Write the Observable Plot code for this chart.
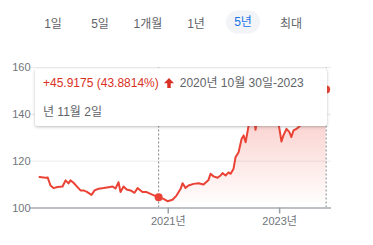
<!DOCTYPE html>
<html><head><meta charset="utf-8">
<script src="https://cdn.jsdelivr.net/npm/d3@7"></script>
<script src="https://cdn.jsdelivr.net/npm/@observablehq/plot@0.6"></script>
<style>
body{margin:0;background:#fff;font-family:Arial,"Liberation Sans","Noto Sans CJK KR",sans-serif;}
#wrap{position:relative;width:373px;height:245px;overflow:hidden;}
#chart{position:absolute;left:0;top:0;}
.tab{position:absolute;top:22px;transform:translate(-50%,-50%);font-size:12px;color:#5f6368;white-space:nowrap;}
.tab.sel{color:#1a73e8;background:#f2f4f7;border-radius:12px;width:34px;height:23px;line-height:23px;text-align:center;}
#tip{position:absolute;left:35px;top:69px;width:292px;height:57px;background:#fff;box-shadow:0 1px 3px rgba(60,64,67,.35);border-radius:2px;box-sizing:border-box;padding:0 8px;font-size:12px;line-height:29px;color:#5f6368;white-space:nowrap;}
#tip .chg{color:#d93025;}
#tip svg{vertical-align:-2px;margin:0 5px 0 4px;}
</style></head>
<body>
<div id="wrap">
  <div id="chart"></div>
  <div id="tabs"></div>
  <div id="tip"></div>
</div>
<script>
const tabs = ["1일","5일","1개월","1년","5년","최대"];
const tabCenters = [53, 100, 148, 196, 243, 291];
const selectedTab = "5년";

const dates = ["2018-09-10","2018-10-20","2018-11-03","2018-11-21","2018-12-11","2019-01-06","2019-02-08","2019-02-28","2019-03-19","2019-04-01","2019-04-21","2019-05-17","2019-06-06","2019-06-26","2019-07-15","2019-08-17","2019-09-06","2019-10-02","2019-11-04","2019-12-07","2020-01-02","2020-01-21","2020-02-10","2020-02-23","2020-03-14","2020-04-03","2020-04-29","2020-05-25","2020-06-14","2020-07-03","2020-07-16","2020-08-12","2020-09-07","2020-10-03","2020-10-30","2020-12-01","2020-12-27","2021-01-29","2021-02-24","2021-03-23","2021-04-05","2021-04-24","2021-05-14","2021-06-16","2021-07-19","2021-08-20","2021-09-22","2021-10-05","2021-10-25","2021-11-20","2021-12-10","2021-12-23","2022-01-12","2022-01-31","2022-02-14","2022-03-05","2022-03-18","2022-04-07","2022-04-27","2022-05-10","2022-05-23","2022-06-12","2022-06-25","2022-07-14","2022-07-27","2022-08-16","2022-09-11","2022-10-07","2022-11-02","2022-11-28","2022-12-24","2023-01-13","2023-01-26","2023-02-15","2023-03-06","2023-03-19","2023-04-02","2023-04-21","2023-05-11","2023-06-06","2023-07-09","2023-08-11","2023-09-13","2023-10-09","2023-11-02"];
const values = [113.2,112.9,113.0,109.6,108.5,109.0,109.2,111.8,110.5,111.8,110.8,108.9,107.5,107.5,107.0,105.6,107.5,108.2,108.5,108.9,109.2,108.3,111.0,106.8,109.2,107.9,107.5,106.5,108.5,107.5,106.8,106.8,106.0,105.3,104.64,103.9,102.9,103.5,105.3,108.2,110.6,108.6,109.6,110.3,110.6,110.0,112.0,114.6,113.5,112.9,113.9,114.9,113.9,115.2,114.6,116.8,121.7,123.8,129.6,131.0,128.1,135.3,136.0,140.0,133.4,141.0,138.0,144.0,140.0,143.0,136.5,128.4,131.0,133.8,132.4,130.3,133.1,133.8,134.8,137.0,139.0,141.0,144.0,147.0,150.56];
const yTicks = [100, 120, 140, 160];
const xTicks = ["2021-01-01", "2023-01-01"];
const rangeStart = "2020-10-30";
const rangeEnd = "2023-11-02";
const changeText = "+45.9175 (43.8814%)";
const periodLine1 = "2020년 10월 30일-2023";
const periodLine2 = "년 11월 2일";

const data = dates.map((d, i) => ({date: new Date(d), value: values[i]}));
const t0 = new Date(rangeStart), t1 = new Date(rangeEnd);
const areaData = data.filter(d => d.date >= t0);
const endPoints = data.filter(d => +d.date === +t0 || +d.date === +t1);

const red = "#ea4335";
const defs = () => {
  const s = d3.create("svg:defs");
  const g = s.append("linearGradient").attr("id", "fillgrad").attr("x1", 0).attr("x2", 0).attr("y1", 0).attr("y2", 1);
  g.append("stop").attr("offset", "0%").attr("stop-color", red).attr("stop-opacity", 0.32);
  g.append("stop").attr("offset", "100%").attr("stop-color", red).attr("stop-opacity", 0.0);
  return s.node();
};

const chart = Plot.plot({
  width: 373, height: 245,
  marginTop: 67, marginBottom: 37.5, marginLeft: 30, marginRight: 42,
  style: {fontFamily: "Arial, 'Liberation Sans', 'Noto Sans CJK KR', sans-serif", fontSize: "11px", background: "transparent"},
  x: {type: "utc", domain: [new Date("2018-07-13"), new Date("2023-12-07")]},
  y: {domain: [100, 160]},
  marks: [
    defs,
    Plot.ruleY(yTicks.slice(1), {stroke: "#ebebeb"}),
    Plot.areaY(areaData, {x: "date", y1: 100, y2: "value", fill: "url(#fillgrad)"}),
    Plot.ruleX([t0, t1], {y1: 100, y2: 160, stroke: "#80868b", strokeDasharray: "2,2"}),
    Plot.line(data, {x: "date", y: "value", stroke: red, strokeWidth: 2, strokeLinejoin: "round"}),
    Plot.dot(endPoints, {x: "date", y: "value", r: 4, fill: red, stroke: "none"}),
    Plot.ruleY([100], {stroke: "#bdc1c6", strokeWidth: 2}),
    Plot.axisY({ticks: yTicks, tickSize: 0, tickPadding: 0, fill: "#70757a", label: null}),
    Plot.axisX({ticks: xTicks.map(d => new Date(d)), tickFormat: d => d.getUTCFullYear() + "년", tickSize: 6, tickPadding: 3, stroke: "#9aa0a6", strokeWidth: 1.5, fill: "#70757a", label: null})
  ]
});
document.getElementById("chart").appendChild(chart);

const tabsEl = document.getElementById("tabs");
tabs.forEach((t, i) => {
  const s = document.createElement("span");
  s.className = "tab" + (t === selectedTab ? " sel" : "");
  s.style.left = tabCenters[i] + "px";
  s.textContent = t;
  tabsEl.appendChild(s);
});

document.getElementById("tip").innerHTML =
  `<span class="chg">${changeText}</span><svg width="12" height="12" viewBox="0 0 24 24"><path d="M12 2 L22 12.5 H15.5 V22 H8.5 V12.5 H2 Z" fill="#d93025"/></svg>${periodLine1}<br>${periodLine2}`;
</script>
</body></html>
